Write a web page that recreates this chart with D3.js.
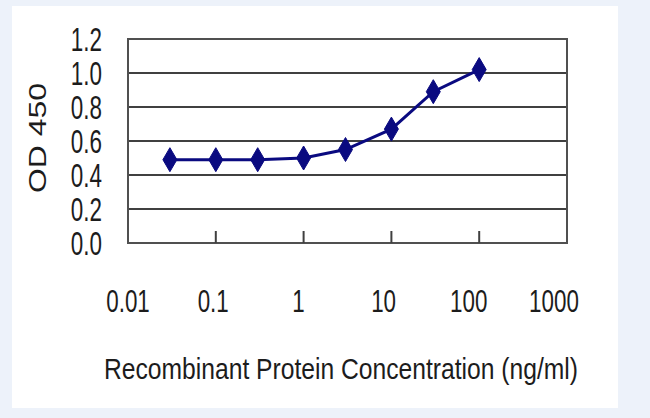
<!DOCTYPE html>
<html>
<head>
<meta charset="utf-8">
<script src="https://cdn.jsdelivr.net/npm/d3@7"></script>
<style>
  body { margin: 0; background: #edf2fa; }
  text { font-family: "Liberation Sans", Arial, sans-serif; fill: #1c1c1c; }
</style>
</head>
<body>
<div id="chart"></div>
<script>
// concentrations (ng/ml) and OD450 readings
var conc = [0.03, 0.1, 0.3, 1, 3, 10, 30, 100];
var od = [0.49, 0.49, 0.49, 0.50, 0.55, 0.67, 0.89, 1.02];
var xTicks = [0.01, 0.1, 1, 10, 100, 1000];
var xTickLabels = ["0.01", "0.1", "1", "10", "100", "1000"];
var yTicks = [0, 0.2, 0.4, 0.6, 0.8, 1.0, 1.2];
var yTickLabels = ["0.0", "0.2", "0.4", "0.6", "0.8", "1.0", "1.2"];

var svg = d3.select("#chart")
    .append("svg")
    .attr("width", 650)
    .attr("height", 418),
    margin = { top: 39, right: 83, bottom: 175, left: 128 },
    width = +svg.attr("width") - margin.left - margin.right,
    height = +svg.attr("height") - margin.top - margin.bottom;

// white panel
svg.append("rect")
    .attr("x", 12).attr("y", 6)
    .attr("width", 606).attr("height", 402)
    .attr("fill", "#fff");

var x = d3.scaleLog().domain([0.01, 1000]).range([0, width]),
    y = d3.scaleLinear().domain([0, 1.2]).range([height, 0]);

var g = svg.append("g")
    .attr("transform", "translate(" + margin.left + "," + margin.top + ")");

// gridlines
g.selectAll(".grid")
    .data(yTicks)
    .enter().append("line")
    .attr("x1", 0).attr("x2", width)
    .attr("y1", d => y(d)).attr("y2", d => y(d))
    .attr("stroke", "#404040")
    .attr("stroke-width", 2);

// plot border
g.append("rect")
    .attr("width", width).attr("height", height)
    .attr("fill", "none")
    .attr("stroke", "#505050")
    .attr("stroke-width", 2);

// inner tick marks on x axis
g.selectAll(".xtick")
    .data(xTicks.slice(1, -1))
    .enter().append("line")
    .attr("x1", d => x(d)).attr("x2", d => x(d))
    .attr("y1", height).attr("y2", height - 12)
    .attr("stroke", "#404040")
    .attr("stroke-width", 2);

// y tick labels (squashed horizontally like the original)
g.selectAll(".ylab")
    .data(yTicks)
    .enter().append("text")
    .attr("transform", d => "translate(-26," + y(d) + ") scale(0.68,1)")
    .attr("text-anchor", "end")
    .attr("dy", "0.36em")
    .style("font-size", "33px")
    .text((d, i) => yTickLabels[i]);

// x tick labels
g.selectAll(".xlab")
    .data(xTicks)
    .enter().append("text")
    .attr("transform", (d, i) => "translate(" + (x(d) - i * 2.6) + "," + (height + 69) + ") scale(0.7,1)")
    .attr("text-anchor", "middle")
    .style("font-size", "32px")
    .text((d, i) => xTickLabels[i]);

// y axis title
svg.append("text")
    .attr("transform", "translate(46,138) scale(0.72,1) rotate(-90)")
    .attr("text-anchor", "middle")
    .style("font-size", "32px")
    .text("OD 450");

// x axis title
svg.append("text")
    .attr("transform", "translate(341,379) scale(0.85,1)")
    .attr("text-anchor", "middle")
    .style("font-size", "29px")
    .text("Recombinant Protein Concentration (ng/ml)");

// data line
var line = d3.line()
    .x((d, i) => x(conc[i]))
    .y(d => y(d));

g.append("path")
    .datum(od)
    .attr("fill", "none")
    .attr("stroke", "#0a0a80")
    .attr("stroke-width", 3)
    .attr("d", line);

// diamond markers
g.selectAll(".pt")
    .data(od)
    .enter().append("path")
    .attr("transform", (d, i) => "translate(" + x(conc[i]) + "," + y(d) + ")")
    .attr("d", "M0,-12L7,0L0,12L-7,0Z")
    .attr("fill", "#0a0a80")
    .attr("stroke", "#0a0a80")
    .attr("stroke-width", 1);
</script>
</body>
</html>
